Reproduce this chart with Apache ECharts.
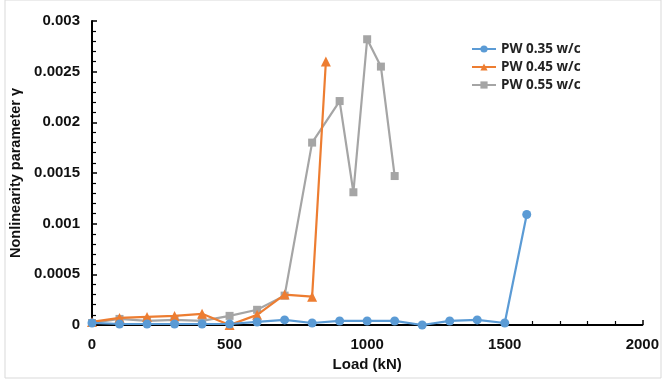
<!DOCTYPE html>
<html><head><meta charset="utf-8">
<script src="https://cdn.jsdelivr.net/npm/echarts@6/dist/echarts.min.js"></script>
<style>html,body{margin:0;padding:0;background:#fff}#c{width:662px;height:385px}</style>
</head><body><div id="c"></div>
<script>
const seriesNames = ['PW 0.35 w/c', 'PW 0.45 w/c', 'PW 0.55 w/c'];
const loadA = [0,100,200,300,400,500,600,700,800,900,1000,1100,1200,1300,1400,1500,1580];
const gammaA = [0.00002,0.00001,0.00001,0.00001,0.00001,0.00001,0.00003,0.00005,0.00002,0.00004,0.00004,0.00004,0.0,0.00004,0.00005,0.00002,0.00109];
const loadB = [0,100,200,300,400,500,600,700,800,850];
const gammaB = [0.00003,0.00007,0.00008,0.00009,0.00011,0.0,0.0001,0.0003,0.00028,0.0026];
const loadC = [0,100,200,300,400,500,600,700,800,900,950,1000,1050,1100];
const gammaC = [0.00002,0.00006,0.00004,0.00005,0.00004,0.00009,0.00015,0.00029,0.0018,0.00221,0.00131,0.00282,0.00255,0.00147];
const xTicks = ['0','500','1000','1500','2000'];
const yTicks = ['0','0.0005','0.001','0.0015','0.002','0.0025','0.003'];
const colors = ['#5B9BD5','#ED7D31','#A5A5A5'];
const symbols = ['circle','triangle','rect'];

const pair = (xs, ys) => xs.map((x,i)=>[x, ys[i]]);
const font = 'Liberation Sans, Arial, sans-serif';
const chart = echarts.init(document.getElementById('c'));
chart.setOption({
  animation:false,
  backgroundColor:'#fff',
  graphic:[{type:'rect',shape:{x:5,y:0,width:656,height:378},style:{fill:'none',stroke:'#d9d9d9',lineWidth:1}}],
  grid:{left:92,right:14,top:21,bottom:60},
  legend:{
    orient:'vertical', left:466, top:37, itemWidth:24, itemHeight:9, itemGap:4,
    data:seriesNames,
    textStyle:{fontFamily:'Open Sans, sans-serif',fontWeight:'bold',fontSize:13.5,lineHeight:14,color:'#222'}
  },
  xAxis:{
    type:'value', min:0, max:2000, interval:500,
    name:'Load (kN)', nameLocation:'middle', nameGap:31,
    nameTextStyle:{fontFamily:font,fontWeight:'bold',fontSize:15,color:'#111'},
    axisLine:{lineStyle:{color:'#000',width:2}},
    axisTick:{inside:true,length:5,lineStyle:{color:'#000',width:1.5}},
    minorTick:{show:true,splitNumber:5,length:4,lineStyle:{color:'#000',width:1.2}},
    axisLabel:{fontFamily:font,fontWeight:'bold',fontSize:15,color:'#111',margin:12,
      formatter:(v)=>{const i=Math.round(v/500);return xTicks[i]!==undefined?xTicks[i]:'';}},
    splitLine:{show:false}
  },
  yAxis:{
    type:'value', min:0, max:0.003, interval:0.0005,
    name:'Nonlinearity parameter γ', nameLocation:'middle', nameGap:63,
    nameTextStyle:{fontFamily:font,fontWeight:'bold',fontSize:14.5,color:'#111'},
    axisLine:{show:true,lineStyle:{color:'#000',width:2}},
    axisTick:{show:true,inside:true,length:5,lineStyle:{color:'#000',width:1.5}},
    minorTick:{show:true,splitNumber:5,length:4,lineStyle:{color:'#000',width:1.2}},
    axisLabel:{fontFamily:font,fontWeight:'bold',fontSize:15,color:'#111',margin:12,
      formatter:(v)=>{const i=Math.round(v/0.0005);return yTicks[i]!==undefined?yTicks[i]:'';}},
    splitLine:{show:false}
  },
  series:[
    {name:seriesNames[0],type:'line',data:pair(loadA,gammaA),symbol:symbols[0],symbolSize:9,
     itemStyle:{color:colors[0]},lineStyle:{color:colors[0],width:2.2},z:3},
    {name:seriesNames[1],type:'line',data:pair(loadB,gammaB),symbol:symbols[1],symbolSize:10,
     itemStyle:{color:colors[1]},lineStyle:{color:colors[1],width:2.2},z:2},
    {name:seriesNames[2],type:'line',data:pair(loadC,gammaC),symbol:symbols[2],symbolSize:8,
     itemStyle:{color:colors[2]},lineStyle:{color:colors[2],width:2.2},z:1}
  ]
});
</script></body></html>
